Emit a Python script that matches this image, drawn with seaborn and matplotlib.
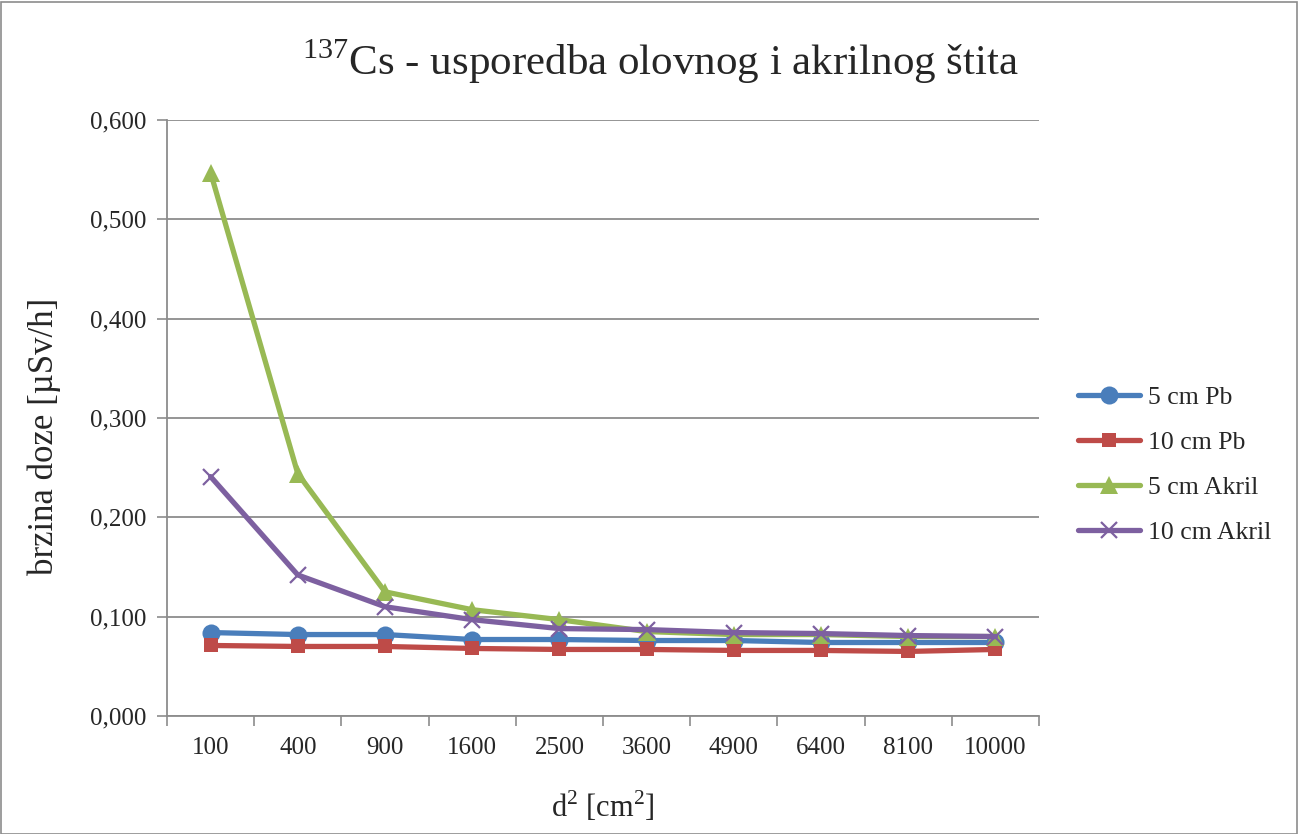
import matplotlib
matplotlib.use("Agg")
import matplotlib.pyplot as plt
import seaborn as sns
import pandas as pd
from matplotlib.patches import Rectangle
from matplotlib.ticker import FuncFormatter, FixedLocator

# d^2 categories [cm^2]
distances = ["100", "400", "900", "1600", "2500", "3600", "4900", "6400", "8100", "10000"]

# dose rate [uSv/h]
pb_5cm = [0.084, 0.082, 0.082, 0.077, 0.077, 0.076, 0.076, 0.074, 0.074, 0.074]
pb_10cm = [0.071, 0.070, 0.070, 0.068, 0.067, 0.067, 0.066, 0.066, 0.065, 0.067]
akril_5cm = [0.547, 0.244, 0.125, 0.107, 0.097, 0.085, 0.082, 0.082, 0.080, 0.080]
akril_10cm = [0.241, 0.142, 0.110, 0.097, 0.088, 0.087, 0.084, 0.083, 0.081, 0.080]

series_names = ["5 cm Pb", "10 cm Pb", "5 cm Akril", "10 cm Akril"]
series_values = [pb_5cm, pb_10cm, akril_5cm, akril_10cm]

rows = []
for name, vals in zip(series_names, series_values):
    for d, v in zip(distances, vals):
        rows.append({"d2": d, "doza": v, "serija": name})
df = pd.DataFrame(rows)

sns.set_theme(style="white")
plt.rcParams["font.family"] = ["Liberation Serif", "DejaVu Serif"]
plt.rcParams["mathtext.fontset"] = "custom"
plt.rcParams["mathtext.rm"] = "Liberation Serif"

styles = {
    "5 cm Pb": dict(color="#4A7EBB", marker="o", markersize=13, mec="#4A7EBB", mew=0),
    "10 cm Pb": dict(color="#BE4B48", marker="s", markersize=10, mec="#BE4B48", mew=0),
    "5 cm Akril": dict(color="#98B954", marker="^", markersize=13, mec="#98B954", mew=0),
    "10 cm Akril": dict(color="#7D60A0", marker="x", markersize=12, mec="#7D60A0", mew=1.6),
}

fig = plt.figure(figsize=(12.98, 8.34), dpi=100)
ax = fig.add_axes([167 / 1298, 1 - 716 / 834, (1039 - 167) / 1298, (716 - 120) / 834])

for name in series_names:
    sub = df[df["serija"] == name]
    sns.lineplot(data=sub, x="d2", y="doza", ax=ax, sort=False, linewidth=3.8,
                 label=name, **styles[name])

ax.set_xlim(-0.5, len(distances) - 0.5)
ax.set_ylim(0, 0.6)
ax.set_yticks([0, 0.1, 0.2, 0.3, 0.4, 0.5, 0.6])
ax.yaxis.set_major_formatter(FuncFormatter(lambda v, p: f"{v:.3f}".replace(".", ",")))
ax.yaxis.grid(True, color="#8c8c8c", linewidth=1.3)
ax.set_axisbelow(True)

# category ticks between groups, Excel style
ax.xaxis.set_minor_locator(FixedLocator([i - 0.5 for i in range(len(distances) + 1)]))
ax.tick_params(axis="x", which="major", length=0, pad=15, labelsize=18)
ax.tick_params(axis="x", which="minor", length=7, width=1.2, color="#8c8c8c", direction="out", bottom=True)
ax.tick_params(axis="y", which="major", length=7, width=1.2, color="#8c8c8c", direction="out", left=True, labelsize=18, pad=8)

for s in ["top", "right"]:
    ax.spines[s].set_visible(False)
for s in ["left", "bottom"]:
    ax.spines[s].set_color("#8c8c8c")
    ax.spines[s].set_linewidth(1.3)

ax.set_xlabel(r"d$^2$ [cm$^2$]", fontsize=22)
ax.xaxis.set_label_coords(0.5, -0.123)
ax.set_ylabel("brzina doze [µSv/h]", fontsize=25)
ax.yaxis.set_label_coords(-0.122, 0.47)
fig.text(660 / 1298, 1 - 62 / 834, r"$^{137}$Cs - usporedba olovnog i akrilnog štita",
         ha="center", va="center", fontsize=31)

handles, labels = ax.get_legend_handles_labels()
ax.get_legend().remove()
fig.legend(handles, labels, loc="center left", bbox_to_anchor=(1055 / 1298, 1 - 465 / 834),
           frameon=False, fontsize=18.5, handlelength=2.4, labelspacing=0.85, handletextpad=0.3)

fig.patches.append(Rectangle((0.001, 0.0), 0.998, 0.998, transform=fig.transFigure,
                             fill=False, edgecolor="#8c8c8c", linewidth=1.2))

fig.savefig("out.png", dpi=100)
plt.close(fig)
